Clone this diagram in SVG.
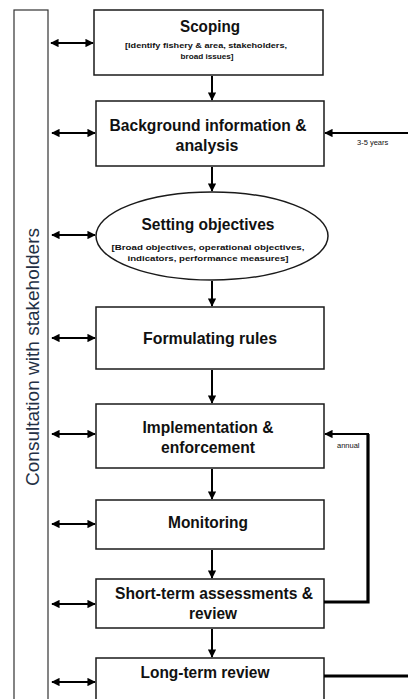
<svg xmlns="http://www.w3.org/2000/svg" width="408" height="699" viewBox="0 0 408 699">
<defs>
<marker id="ah" viewBox="0 0 10 10" refX="9" refY="5" markerWidth="4.2" markerHeight="4.2" orient="auto-start-reverse" markerUnits="strokeWidth">
<path d="M0,0 L10,5 L0,10 z" fill="#000"/>
</marker>
<style>
.box{fill:#fff;stroke:#1a1a1a;stroke-width:1.5}
.t{font-family:"Liberation Sans",Arial,sans-serif;font-weight:bold;font-size:17px;fill:#111;text-anchor:middle}
.s{font-family:"Liberation Sans",Arial,sans-serif;font-weight:bold;font-size:7.5px;fill:#111;text-anchor:middle}
.l{font-family:"Liberation Sans",Arial,sans-serif;font-size:7.5px;fill:#111}
.c{stroke:#000;stroke-width:2;fill:none}
.th{stroke:#000;stroke-width:3.2;fill:none}
</style>
</defs>
<rect width="408" height="699" fill="#fff"/>

<g id="stakeholders">
<rect x="14" y="10" width="34" height="710" fill="#fff" stroke="#333" stroke-width="1.2"/>
<text transform="translate(39,357) rotate(-90)" font-family="Liberation Sans,Arial,sans-serif" font-size="18.5" fill="#243044" text-anchor="middle" textLength="258" lengthAdjust="spacingAndGlyphs">Consultation with stakeholders</text>
</g>

<g id="scoping">
<rect class="box" x="94" y="10" width="229" height="65"/>
<text class="t" x="210" y="32" textLength="60" lengthAdjust="spacingAndGlyphs">Scoping</text>
<text class="s" x="206" y="48" textLength="162" lengthAdjust="spacingAndGlyphs">[Identify fishery &amp; area, stakeholders,</text>
<text class="s" x="207" y="59" textLength="53" lengthAdjust="spacingAndGlyphs">broad  issues]</text>
</g>

<g id="background">
<rect class="box" x="96" y="101" width="228" height="65"/>
<text class="t" x="208" y="131" textLength="197" lengthAdjust="spacingAndGlyphs">Background information &amp;</text>
<text class="t" x="207" y="151" textLength="63" lengthAdjust="spacingAndGlyphs">analysis</text>
</g>

<g id="objectives">
<ellipse class="box" cx="212" cy="236" rx="116" ry="44"/>
<text class="t" x="208" y="230" textLength="133" lengthAdjust="spacingAndGlyphs">Setting objectives</text>
<text class="s" x="208" y="250" textLength="193" lengthAdjust="spacingAndGlyphs">[Broad objectives, operational objectives,</text>
<text class="s" x="208" y="261" textLength="161" lengthAdjust="spacingAndGlyphs">indicators, performance measures]</text>
</g>

<g id="rules">
<rect class="box" x="96" y="307" width="228" height="62"/>
<text class="t" x="210" y="344" textLength="134" lengthAdjust="spacingAndGlyphs">Formulating rules</text>
</g>

<g id="implementation">
<rect class="box" x="96" y="404" width="228" height="64"/>
<text class="t" x="208" y="433" textLength="131" lengthAdjust="spacingAndGlyphs">Implementation &amp;</text>
<text class="t" x="208" y="453" textLength="94" lengthAdjust="spacingAndGlyphs">enforcement</text>
</g>

<g id="monitoring">
<rect class="box" x="96" y="500" width="228" height="49"/>
<text class="t" x="208" y="528" textLength="80" lengthAdjust="spacingAndGlyphs">Monitoring</text>
</g>

<g id="shortterm">
<rect class="box" x="96" y="579" width="228" height="49"/>
<text class="t" x="214" y="599" textLength="198" lengthAdjust="spacingAndGlyphs">Short-term assessments &amp;</text>
<text class="t" x="213" y="619" textLength="48" lengthAdjust="spacingAndGlyphs">review</text>
</g>

<g id="longterm">
<rect class="box" x="96" y="658" width="228" height="60"/>
<text class="t" x="205" y="678" textLength="129" lengthAdjust="spacingAndGlyphs">Long-term review</text>
</g>

<g id="connectors">
<line class="c" x1="212" y1="76" x2="212" y2="100" marker-end="url(#ah)"/>
<line class="c" x1="212" y1="167" x2="212" y2="191" marker-end="url(#ah)"/>
<line class="c" x1="212" y1="281" x2="212" y2="306" marker-end="url(#ah)"/>
<line class="c" x1="212" y1="370" x2="212" y2="403" marker-end="url(#ah)"/>
<line class="c" x1="212" y1="469" x2="212" y2="499" marker-end="url(#ah)"/>
<line class="c" x1="212" y1="550" x2="212" y2="578" marker-end="url(#ah)"/>
<line class="c" x1="212" y1="629" x2="212" y2="657" marker-end="url(#ah)"/>

<line class="c" x1="51" y1="43" x2="93" y2="43" marker-start="url(#ah)" marker-end="url(#ah)"/>
<line class="c" x1="52" y1="133" x2="95" y2="133" marker-start="url(#ah)" marker-end="url(#ah)"/>
<line class="c" x1="52" y1="235" x2="95" y2="235" marker-start="url(#ah)" marker-end="url(#ah)"/>
<line class="c" x1="52" y1="338" x2="95" y2="338" marker-start="url(#ah)" marker-end="url(#ah)"/>
<line class="c" x1="52" y1="434" x2="95" y2="434" marker-start="url(#ah)" marker-end="url(#ah)"/>
<line class="c" x1="52" y1="524" x2="95" y2="524" marker-start="url(#ah)" marker-end="url(#ah)"/>
<line class="c" x1="52" y1="604" x2="95" y2="604" marker-start="url(#ah)" marker-end="url(#ah)"/>
<line class="c" x1="52" y1="682" x2="95" y2="682" marker-start="url(#ah)" marker-end="url(#ah)"/>

<line class="c" x1="408" y1="133" x2="325" y2="133" marker-end="url(#ah)"/>
<text class="l" x="357" y="145">3-5 years</text>

<polyline class="th" points="324,602 368,602 368,434"/>
<line class="c" x1="369" y1="434" x2="325" y2="434" marker-end="url(#ah)"/>
<text class="l" x="337" y="448">annual</text>

<line class="th" x1="324" y1="676" x2="408" y2="676"/>
</g>
</svg>
